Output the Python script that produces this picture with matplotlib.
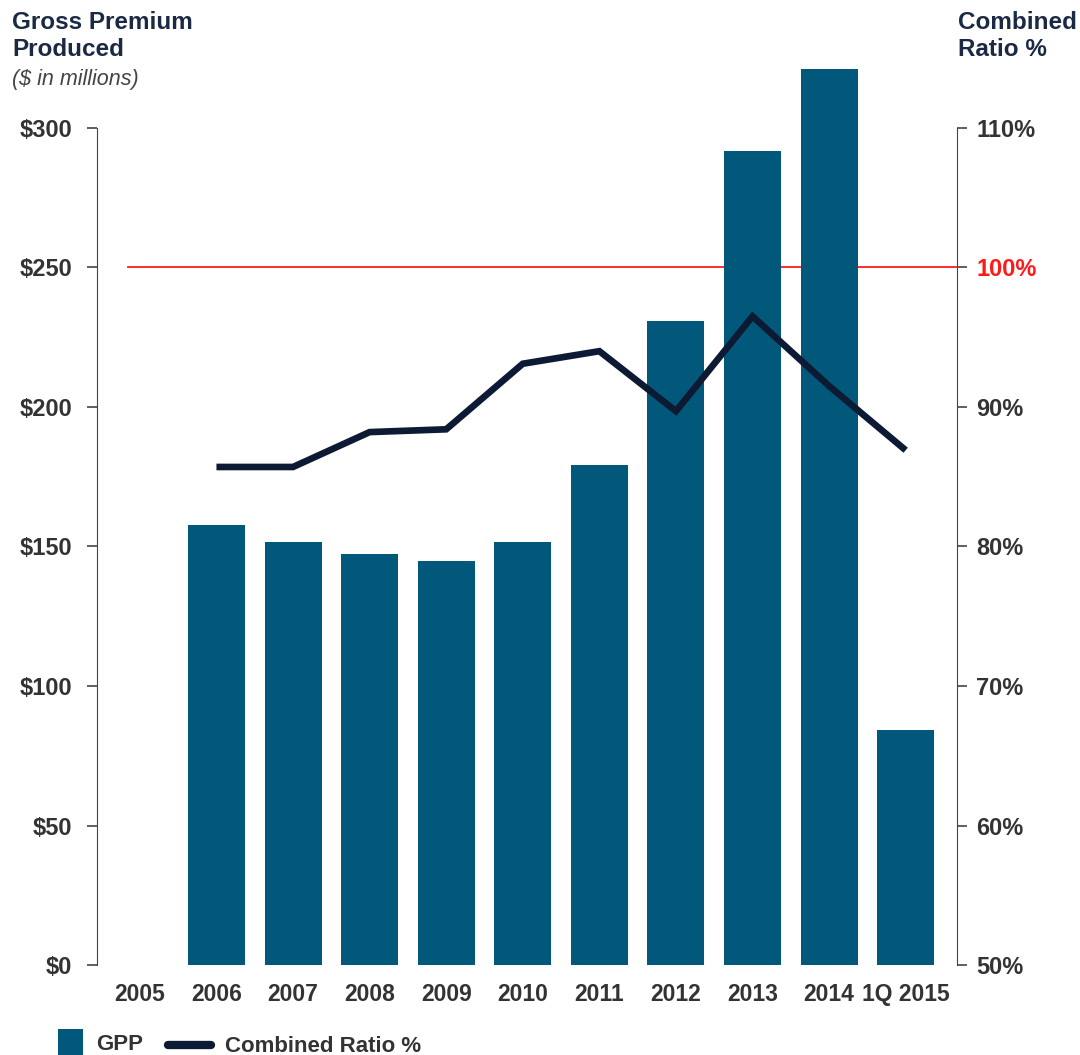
import numpy as np
import matplotlib.pyplot as plt
from matplotlib.lines import Line2D
from matplotlib.patches import Rectangle
from matplotlib.transforms import blended_transform_factory

plt.rcParams['font.family'] = ['Liberation Sans', 'DejaVu Sans']

# values
years = ["2005", "2006", "2007", "2008", "2009", "2010", "2011", "2012", "2013", "2014", "1Q 2015"]
gpp = [np.nan, 157.7, 151.6, 147.3, 144.8, 151.6, 179.3, 230.7, 291.8, 321.2, 84.4]
combined_ratio = [np.nan, 85.7, 85.7, 88.2, 88.4, 93.1, 94.0, 89.7, 96.5, 91.5, 86.9]

left_ticks = [0, 50, 100, 150, 200, 250, 300]
left_labels = ["$0", "$50", "$100", "$150", "$200", "$250", "$300"]
right_ticks = [50, 60, 70, 80, 90, 100, 110]
right_labels = ["50%", "60%", "70%", "80%", "90%", "100%", "110%"]
breakeven = 100

bar_color = "#02587A"
line_color = "#0C1A33"
text_color = "#333333"
title_color = "#1B2A44"
red = "#FF1A1A"

fig = plt.figure(figsize=(10.8, 10.55), dpi=100)
ax = fig.add_axes([0.0898, 0.0853, 0.7963, 0.7934])
ax2 = ax.twinx()      # right axis, ticks only
ax_line = ax.twinx()  # ratio line, drawn on top of the bars
ax.set_zorder(1)
ax_line.set_zorder(2)
ax2.set_zorder(0)
ax.patch.set_visible(False)
ax_line.patch.set_visible(False)

x = np.arange(len(years))

ax.set_xlim(-0.56, 10.67)
ax.set_ylim(0, 300)
ax2.set_ylim(50, 110)
ax_line.set_ylim(50, 110)
ax_line.axis("off")

# red 100% line, in the bar axes (below the bars) but on the right-hand scale
trans = blended_transform_factory(ax.transAxes, ax2.transData)
ax.add_line(Line2D([0.036, 1.0], [breakeven, breakeven], transform=trans,
                   color=red, lw=1.3, zorder=1, clip_on=False))

ax.bar(x, gpp, width=0.745, color=bar_color, clip_on=False, zorder=2)
ax_line.plot(x, combined_ratio, color=line_color, lw=4.8, solid_joinstyle="miter",
             solid_capstyle="butt")

for a in (ax, ax2):
    for s in ("top", "bottom"):
        a.spines[s].set_visible(False)
ax.spines["right"].set_visible(False)
ax2.spines["left"].set_visible(False)
ax.spines["left"].set_color("#444444")
ax2.spines["right"].set_color("#444444")

ax.set_yticks(left_ticks)
ax.set_yticklabels(left_labels, fontsize=17, fontweight="bold", color=text_color)
ax.tick_params(axis="y", direction="out", length=7, width=1.2, color="#444444", pad=11)

ax2.set_yticks(right_ticks)
ax2.set_yticklabels(right_labels, fontsize=17, fontweight="bold", color=text_color)
ax2.tick_params(axis="y", direction="out", length=7, width=1.2, color="#444444", pad=7)
ax2.get_yticklabels()[5].set_color(red)
ax2.yaxis.get_major_ticks()[5].tick2line.set_color(red)

ax.set_xticks(x)
ax.set_xticklabels(years, fontsize=16.5, fontweight="bold", color=text_color)
ax.tick_params(axis="x", length=0, pad=13)

fig.text(0.011, 0.99, "Gross Premium\nProduced", ha="left", va="top", fontsize=17.5,
         fontweight="bold", color=title_color, linespacing=1.25)
fig.text(0.011, 0.935, "($ in millions)", ha="left", va="top", fontsize=15.5,
         style="italic", color="#444444")
fig.text(0.887, 0.99, "Combined\nRatio %", ha="left", va="top", fontsize=17.5,
         fontweight="bold", color=title_color, linespacing=1.25)

# legend drawn by hand to match the reference placement
fig.add_artist(Rectangle((0.0537, 0.0), 0.0232, 0.0245, transform=fig.transFigure,
                         facecolor=bar_color, edgecolor="none"))
fig.text(0.089, 0.0095, "GPP", ha="left", va="center", fontsize=16,
         fontweight="bold", color=text_color)
fig.add_artist(Line2D([0.156, 0.195], [0.0095, 0.0095], transform=fig.transFigure,
                      color=line_color, lw=6, solid_capstyle="round"))
fig.text(0.2085, 0.0085, "Combined Ratio %", ha="left", va="center", fontsize=16,
         fontweight="bold", color=text_color)

fig.savefig("out.png", dpi=100)
